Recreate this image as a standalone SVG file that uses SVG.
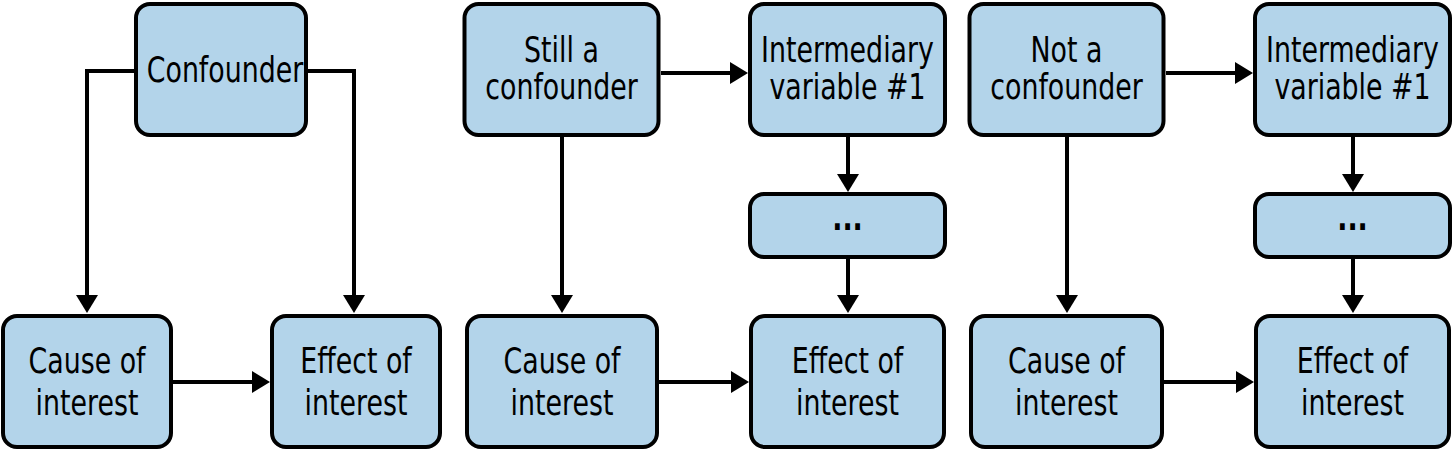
<svg xmlns="http://www.w3.org/2000/svg" width="1454" height="452" viewBox="0 0 1454 452">
  <defs>
    <marker id="arrow" viewBox="0 0 18 22" refX="8" refY="11" markerWidth="18" markerHeight="22" markerUnits="userSpaceOnUse" orient="auto">
      <path d="M0,0 L18,11 L0,22 z" fill="#000"/>
    </marker>
    <style>
      .box { fill: #b3d4ea; stroke: #000; stroke-width: 4; }
      .lbl { font-family: "DejaVu Sans Condensed", "DejaVu Sans", sans-serif; font-size: 35.5px; fill: #000; text-anchor: middle; }
      .dots { font-weight: bold; }
      .edge { fill: none; stroke: #000; stroke-width: 4; marker-end: url(#arrow); }
    </style>
  </defs>
  <rect width="1454" height="452" fill="#fff"/>

  <g id="connectors">
    <path class="edge" d="M134,71 H87 V303"/>
    <path class="edge" d="M308,71 H354 V303"/>
    <path class="edge" d="M173,382 H260"/>

    <path class="edge" d="M661,73 H738"/>
    <path class="edge" d="M562,137 V303"/>
    <path class="edge" d="M848,137 V182"/>
    <path class="edge" d="M848,259 V303"/>
    <path class="edge" d="M659,382 H739"/>

    <path class="edge" d="M1166,73 H1243"/>
    <path class="edge" d="M1067,137 V303"/>
    <path class="edge" d="M1353,137 V182"/>
    <path class="edge" d="M1353,259 V303"/>
    <path class="edge" d="M1164,382 H1244"/>
  </g>

  <g id="confounder">
    <rect class="box" x="136" y="4" width="170" height="131" rx="14"/>
    <text class="lbl" x="0" y="82" transform="matrix(0.84 0 0 1 225 0)">Confounder</text>
  </g>
  <g id="cause1">
    <rect class="box" x="3" y="316" width="168" height="131" rx="14"/>
    <text class="lbl" x="0" y="373" transform="matrix(0.84 0 0 1 87 0)">Cause of</text>
    <text class="lbl" x="0" y="415" transform="matrix(0.84 0 0 1 87 0)">interest</text>
  </g>
  <g id="effect1">
    <rect class="box" x="272" y="316" width="168" height="131" rx="14"/>
    <text class="lbl" x="0" y="373" transform="matrix(0.84 0 0 1 356 0)">Effect of</text>
    <text class="lbl" x="0" y="415" transform="matrix(0.84 0 0 1 356 0)">interest</text>
  </g>

  <g id="still-confounder">
    <rect class="box" x="464.5" y="4" width="194" height="131" rx="14"/>
    <text class="lbl" x="0" y="62" transform="matrix(0.84 0 0 1 561.5 0)">Still a</text>
    <text class="lbl" x="0" y="99" transform="matrix(0.84 0 0 1 561.5 0)">confounder</text>
  </g>
  <g id="intermediary2">
    <rect class="box" x="750" y="4" width="195" height="131" rx="14"/>
    <text class="lbl" x="0" y="62" transform="matrix(0.84 0 0 1 847.5 0)">Intermediary</text>
    <text class="lbl" x="0" y="99" transform="matrix(0.84 0 0 1 847.5 0)">variable #1</text>
  </g>
  <g id="dots2">
    <rect class="box" x="750" y="194" width="195" height="63" rx="14"/>
    <text class="lbl dots" x="0" y="230" transform="matrix(0.84 0 0 1 847.5 0)">...</text>
  </g>
  <g id="cause2">
    <rect class="box" x="467" y="316" width="190" height="131" rx="14"/>
    <text class="lbl" x="0" y="373" transform="matrix(0.84 0 0 1 562 0)">Cause of</text>
    <text class="lbl" x="0" y="415" transform="matrix(0.84 0 0 1 562 0)">interest</text>
  </g>
  <g id="effect2">
    <rect class="box" x="751" y="316" width="193" height="131" rx="14"/>
    <text class="lbl" x="0" y="373" transform="matrix(0.84 0 0 1 847.5 0)">Effect of</text>
    <text class="lbl" x="0" y="415" transform="matrix(0.84 0 0 1 847.5 0)">interest</text>
  </g>

  <g id="not-confounder">
    <rect class="box" x="969.5" y="4" width="194" height="131" rx="14"/>
    <text class="lbl" x="0" y="62" transform="matrix(0.84 0 0 1 1066.5 0)">Not a</text>
    <text class="lbl" x="0" y="99" transform="matrix(0.84 0 0 1 1066.5 0)">confounder</text>
  </g>
  <g id="intermediary3">
    <rect class="box" x="1255" y="4" width="195" height="131" rx="14"/>
    <text class="lbl" x="0" y="62" transform="matrix(0.84 0 0 1 1352.5 0)">Intermediary</text>
    <text class="lbl" x="0" y="99" transform="matrix(0.84 0 0 1 1352.5 0)">variable #1</text>
  </g>
  <g id="dots3">
    <rect class="box" x="1255" y="194" width="195" height="63" rx="14"/>
    <text class="lbl dots" x="0" y="230" transform="matrix(0.84 0 0 1 1352.5 0)">...</text>
  </g>
  <g id="cause3">
    <rect class="box" x="971" y="316" width="191" height="131" rx="14"/>
    <text class="lbl" x="0" y="373" transform="matrix(0.84 0 0 1 1066.5 0)">Cause of</text>
    <text class="lbl" x="0" y="415" transform="matrix(0.84 0 0 1 1066.5 0)">interest</text>
  </g>
  <g id="effect3">
    <rect class="box" x="1256" y="316" width="193" height="131" rx="14"/>
    <text class="lbl" x="0" y="373" transform="matrix(0.84 0 0 1 1352.5 0)">Effect of</text>
    <text class="lbl" x="0" y="415" transform="matrix(0.84 0 0 1 1352.5 0)">interest</text>
  </g>
</svg>
